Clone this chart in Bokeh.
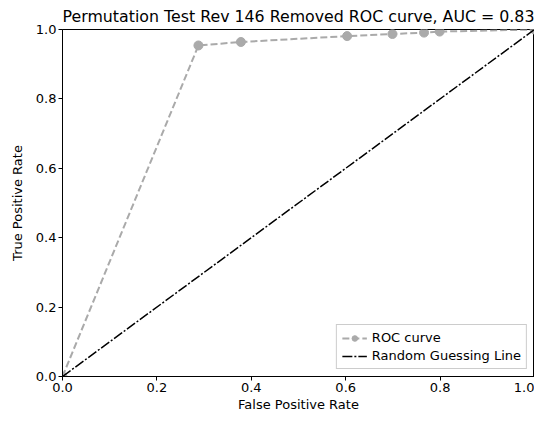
from bokeh.plotting import figure
from bokeh.models import Range1d, FixedTicker, Legend, LegendItem, CustomJSTickFormatter
from bokeh.embed import file_html
from bokeh.resources import INLINE

fpr = [0.0, 0.288, 0.378, 0.603, 0.699, 0.766, 0.799, 1.0]
tpr = [0.0, 0.954, 0.964, 0.981, 0.987, 0.991, 0.994, 1.0]
rand_x = [0.0, 1.0]
rand_y = [0.0, 1.0]
ticks = [0.0, 0.2, 0.4, 0.6, 0.8, 1.0]
title = "Permutation Test Rev 146 Removed ROC curve, AUC = 0.83"

FONT = "DejaVu Sans"

p = figure(width=534, height=414, output_backend="svg", toolbar_location=None,
           x_range=Range1d(0, 1), y_range=Range1d(0, 1),
           min_border_left=62, min_border_right=0, min_border_bottom=30, min_border_top=0,
           title=title)
p.title.text_font = FONT
p.title.text_font_size = "15.8px"
p.title.text_font_style = "normal"
p.title.text_color = "black"
p.title.align = "center"
p.title.offset = 0
p.title.standoff = 8

p.grid.visible = False
p.outline_line_color = "black"
p.outline_line_width = 1
p.background_fill_color = "white"
p.border_fill_color = "white"

fmt = CustomJSTickFormatter(code="return tick.toFixed(1);")
for ax in (p.xaxis[0], p.yaxis[0]):
    ax.ticker = FixedTicker(ticks=ticks)
    ax.formatter = fmt
    ax.minor_tick_line_color = None
    ax.major_tick_out = 4
    ax.major_tick_in = 0
    ax.major_tick_line_color = "black"
    ax.major_label_text_font = FONT
    ax.major_label_text_font_size = "13px"
    ax.major_label_text_color = "black"
    ax.axis_label_text_font = FONT
    ax.axis_label_text_font_size = "13px"
    ax.axis_label_text_font_style = "normal"
    ax.axis_label_text_color = "black"
    ax.axis_line_color = "black"
    ax.major_label_standoff = 2
    ax.axis_label_standoff = 2
p.yaxis[0].axis_label_standoff = 8

p.xaxis.axis_label = "False Positive Rate"
p.yaxis.axis_label = "True Positive Rate"

roc_line = p.line(fpr, tpr, line_color="#aaaaaa", line_width=2, line_dash="7 3")
roc_pts = p.scatter(fpr, tpr, size=9, fill_color="#aaaaaa", line_color="#aaaaaa")
rand_line = p.line(rand_x, rand_y, line_color="black", line_width=1.5, line_dash="10 2 2 2")

legend = Legend(items=[
    LegendItem(label="ROC curve", renderers=[roc_line, roc_pts]),
    LegendItem(label="Random Guessing Line", renderers=[rand_line]),
], location="bottom_right")
legend.label_text_font = FONT
legend.label_text_font_size = "13px"
legend.label_text_color = "black"
legend.border_line_color = "#cccccc"
legend.border_line_alpha = 1
legend.background_fill_alpha = 0.8
legend.glyph_width = 25
legend.glyph_height = 14
legend.label_height = 14
legend.spacing = 3
legend.padding = 5
legend.margin = 7
p.add_layout(legend)

open("out.html", "w").write(file_html(p, INLINE))
